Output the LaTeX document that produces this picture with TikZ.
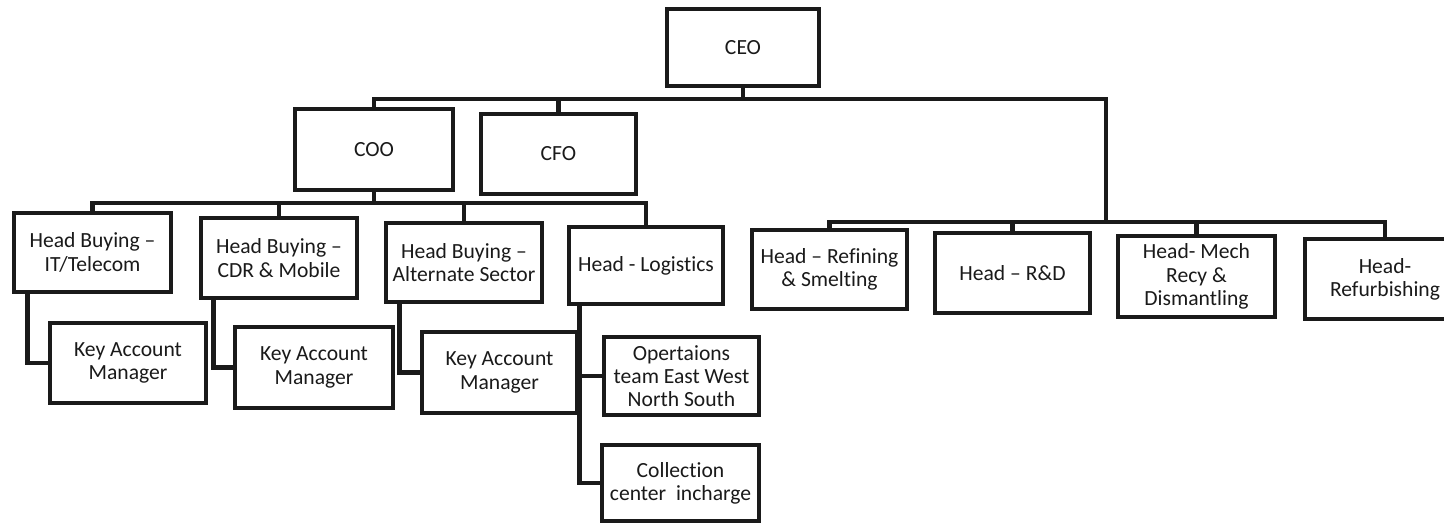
\documentclass[tikz,border=0pt]{standalone}
\usepackage{fontspec}
\setmainfont{Carlito}[Ligatures=NoCommon]
\usetikzlibrary{backgrounds}
\begin{document}
\begin{tikzpicture}[x=0.5pt,y=-0.5pt,
  box/.style={draw=ink, line width=2.4pt, rectangle, inner sep=0pt, align=center,
    font=\fontsize{10.8}{11.6}\selectfont, text=ink, fill=white},
  conn/.style={draw=ink, line width=2.2pt, line cap=rect, line join=miter}]
\definecolor{ink}{HTML}{1A1A1A}
\useasboundingbox (0,0) rectangle (1444,524);
\clip (0,0) rectangle (1444,524);
% level 1
\node[box, minimum width=76pt, minimum height=38.5pt] (ceo) at (743,47.5) {CEO};
% level 2
\node[box, minimum width=79pt, minimum height=40.5pt] (coo) at (374,149.5) {COO};
\node[box, minimum width=77.5pt, minimum height=40pt] (cfo) at (558.5,154) {CFO};
% level 3 left
\node[box, minimum width=78.5pt, minimum height=39.5pt] (it) at (92.5,252.5) {Head Buying --\\IT/Telecom};
\node[box, minimum width=78pt, minimum height=40pt] (cdr) at (279,258) {Head Buying --\\CDR \& Mobile};
\node[box, minimum width=78pt, minimum height=39.5pt] (alt) at (464,262.5) {Head Buying --\\Alternate Sector};
\node[box, minimum width=77pt, minimum height=38.5pt] (log) at (646,265.5) {Head - Logistics};
% level 3 right
\node[box, minimum width=77.5pt, minimum height=39.5pt] (ref) at (829.5,269.5) {Head -- Refining\\\& Smelting};
\node[box, minimum width=77.5pt, minimum height=40pt] (rnd) at (1012.5,273) {Head -- R\&D};
\node[box, minimum width=78.5pt, minimum height=40.5pt] (mech) at (1196.5,276.5) {Head- Mech\\Recy \&\\Dismantling};
\node[box, minimum width=80pt, minimum height=40pt] (refb) at (1385,279) {Head-\\Refurbishing};
% level 4
\node[box, minimum width=78pt, minimum height=40pt] (kam1) at (128,363) {Key Account\\Manager};
\node[box, minimum width=79pt, minimum height=40.5pt] (kam2) at (314,367.5) {Key Account\\Manager};
\node[box, minimum width=77.5pt, minimum height=40.5pt] (kam3) at (499.5,372.5) {Key Account\\Manager};
\node[box, minimum width=77.5pt, minimum height=39pt] (oper) at (681.5,376) {Opertaions\\team East West\\North South};
\node[box, minimum width=78.5pt, minimum height=38pt] (coll) at (680.5,483) {Collection\\center\ \ incharge};
\begin{scope}[on background layer]
\fill[white] (0,0) rectangle (1444,524);
% CEO bus
\coordinate (rtop) at (1106,99);
\coordinate (rjoin) at (1106,222);
\draw[conn] (ceo.south) -- (ceo.south |- rtop);
\draw[conn] (coo.north) |- (rtop) -- (rjoin);
\draw[conn] (cfo.north) -- (cfo.north |- rtop);
% right bus
\draw[conn] (ref.north) |- (rjoin);
\draw[conn] (refb.north) |- (rjoin);
\draw[conn] (rnd.north) -- (rnd.north |- rjoin);
\draw[conn] (mech.north) -- (mech.north |- rjoin);
% COO bus
\coordinate (cbus) at (374,203);
\draw[conn] (coo.south) -- (cbus);
\draw[conn] (it.north) |- (cbus);
\draw[conn] (log.north) |- (cbus);
\draw[conn] (cdr.north) -- (cdr.north |- cbus);
\draw[conn] (alt.north) -- (alt.north |- cbus);
% sub-levels
\draw[conn] ([xshift=8pt]it.south west) |- (kam1.west);
\draw[conn] ([xshift=7.5pt]cdr.south west) |- (kam2.west);
\draw[conn] ([xshift=8pt]alt.south west) |- (kam3.west);
\coordinate (lt) at ([xshift=6.5pt]log.south west);
\draw[conn] (lt) |- (coll.west);
\draw[conn] (lt |- oper.west) -- (oper.west);
\end{scope}
\end{tikzpicture}
\end{document}
